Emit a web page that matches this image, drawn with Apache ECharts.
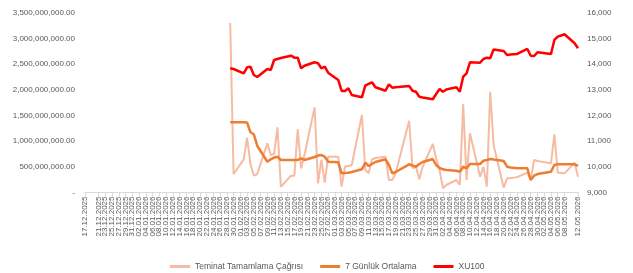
<!DOCTYPE html>
<html>
<head>
<meta charset="utf-8">
<script src="https://cdn.jsdelivr.net/npm/echarts@6/dist/echarts.min.js"></script>
<style>
    html, body { margin: 0; padding: 0; background: #ffffff; }
    #chart { width: 633px; height: 273px; }
</style>
</head>
<body>
<div id="chart"></div>
<script>
// axis runs day by day, labels every second day
const firstDay = '17.12.2025';
const lastDay = '12.05.2026';

// trading days that carry data
const tradeDates = [
    '29.01.2026', '30.01.2026',
    '02.02.2026', '03.02.2026', '04.02.2026', '05.02.2026', '06.02.2026',
    '09.02.2026', '10.02.2026', '11.02.2026', '12.02.2026', '13.02.2026',
    '16.02.2026', '17.02.2026', '18.02.2026', '19.02.2026', '20.02.2026',
    '23.02.2026', '24.02.2026', '25.02.2026', '26.02.2026', '27.02.2026',
    '02.03.2026', '03.03.2026', '04.03.2026', '05.03.2026', '06.03.2026',
    '09.03.2026', '10.03.2026', '11.03.2026', '12.03.2026', '13.03.2026',
    '16.03.2026', '17.03.2026', '18.03.2026', '19.03.2026',
    '23.03.2026', '24.03.2026', '25.03.2026', '26.03.2026', '27.03.2026',
    '30.03.2026', '31.03.2026', '01.04.2026', '02.04.2026', '03.04.2026',
    '06.04.2026', '07.04.2026', '08.04.2026', '09.04.2026', '10.04.2026',
    '13.04.2026', '14.04.2026', '15.04.2026', '16.04.2026', '17.04.2026',
    '20.04.2026', '21.04.2026', '22.04.2026', '24.04.2026',
    '27.04.2026', '28.04.2026', '29.04.2026', '30.04.2026',
    '04.05.2026', '05.05.2026', '06.05.2026', '07.05.2026', '08.05.2026',
    '11.05.2026', '12.05.2026'
];

const marginCalls = [
    3305e6, 361e6,
    647e6, 1068e6, 550e6, 328e6, 361e6,
    959e6, 731e6, 751e6, 1271e6, 113e6,
    328e6, 328e6, 1238e6, 472e6, 731e6,
    1661e6, 179e6, 634e6, 191e6, 698e6,
    698e6, 113e6, 503e6, 517e6, 536e6,
    1511e6, 439e6, 374e6, 647e6, 673e6,
    698e6, 244e6, 244e6, 374e6,
    1400e6, 472e6, 503e6, 257e6, 500e6,
    946e6, 667e6, 439e6, 82e6, 146e6,
    244e6, 146e6, 1725e6, 244e6, 1154e6,
    308e6, 503e6, 113e6, 1965e6, 926e6,
    94e6, 277e6, 277e6, 300e6,
    386e6, 244e6, 634e6, 614e6,
    569e6, 1135e6, 386e6, 380e6, 374e6,
    581e6, 308e6
];

const avg7 = [
    1369e6, 1369e6,
    1369e6, 1365e6, 1174e6, 1135e6, 912e6,
    600e6, 647e6, 682e6, 698e6, 634e6,
    634e6, 634e6, 634e6, 667e6, 634e6,
    692e6, 721e6, 731e6, 698e6, 600e6,
    589e6, 374e6, 380e6, 386e6, 400e6,
    452e6, 581e6, 517e6, 556e6, 595e6,
    647e6, 536e6, 374e6, 400e6,
    550e6, 526e6, 503e6, 556e6, 595e6,
    653e6, 536e6, 478e6, 452e6, 439e6,
    425e6, 406e6, 503e6, 472e6, 556e6,
    556e6, 620e6, 634e6, 653e6, 643e6,
    614e6, 503e6, 487e6, 472e6,
    472e6, 244e6, 328e6, 360e6,
    406e6, 536e6, 550e6, 550e6, 550e6,
    550e6, 517e6
];

const xu100 = [
    13844, 13817,
    13649, 13883, 13906, 13583, 13505,
    13817, 13778, 14168, 14207, 14246,
    14335, 14257, 14257, 13844, 13945,
    14078, 14039, 13844, 13906, 13672,
    13388, 12959, 12959, 13064, 12803,
    12713, 13165, 13232, 13298, 13103,
    12970, 13220, 13087, 13103,
    13154, 12970, 12931, 12736, 12705,
    12635, 12842, 13037, 12931, 13017,
    13103, 12931, 13516, 13649, 14078,
    14062, 14207, 14257, 14234, 14577,
    14519, 14363, 14382, 14402,
    14597, 14335, 14324, 14468,
    14402, 14948, 15076, 15123, 15170,
    14819, 14624
];

const seriesNames = ['Teminat Tamamlama Çağrısı', '7 Günlük Ortalama', 'XU100'];

function parseDay(s) {
    const [d, m, y] = s.split('.').map(Number);
    return new Date(Date.UTC(y, m - 1, d));
}
function formatDay(dt) {
    const d = String(dt.getUTCDate()).padStart(2, '0');
    const m = String(dt.getUTCMonth() + 1).padStart(2, '0');
    return d + '.' + m + '.' + dt.getUTCFullYear();
}

const categories = [];
for (let t = parseDay(firstDay); t <= parseDay(lastDay); t = new Date(t.getTime() + 86400000)) {
    categories.push(formatDay(t));
}

// put each trading-day value on its calendar day, leave the rest empty
function onCalendar(values) {
    const out = categories.map(() => null);
    tradeDates.forEach((d, i) => { out[categories.indexOf(d)] = values[i]; });
    return out;
}

function moneyLabel(v) {
    if (v === 0) return '-';
    return v.toLocaleString('en-US', { minimumFractionDigits: 2, maximumFractionDigits: 2 });
}

const everyOther = (idx) => idx % 2 === 0;

const font = 'Liberation Sans, Arial, sans-serif';
const textColor = '#595959';

const chart = echarts.init(document.getElementById('chart'));
chart.setOption({
    backgroundColor: '#ffffff',
    animation: false,
    textStyle: { fontFamily: font },
    grid: { left: 85, right: 55, top: 13, bottom: 80.5 },
    legend: {
        top: 257,
        left: 165,
        itemWidth: 20,
        itemHeight: 3,
        itemGap: 17,
        icon: 'rect',
        data: seriesNames,
        textStyle: { fontSize: 8.5, color: textColor, fontFamily: font }
    },
    xAxis: {
        type: 'category',
        boundaryGap: false,
        data: categories,
        axisLine: { lineStyle: { color: '#d9d9d9' } },
        axisTick: { interval: everyOther, length: 4, lineStyle: { color: '#d9d9d9' } },
        axisLabel: {
            interval: everyOther,
            showMinLabel: true,
            showMaxLabel: true,
            rotate: 90,
            margin: 4,
            fontSize: 8,
            color: textColor,
            fontFamily: font
        },
        splitLine: { show: false }
    },
    yAxis: [
        {
            type: 'value',
            min: 0,
            max: 3500000000,
            interval: 500000000,
            axisLine: { show: false },
            axisTick: { show: false },
            splitLine: { show: false },
            axisLabel: { fontSize: 8, color: textColor, margin: 10, fontFamily: font, formatter: moneyLabel }
        },
        {
            type: 'value',
            min: 9000,
            max: 16000,
            interval: 1000,
            axisLine: { show: false },
            axisTick: { show: false },
            splitLine: { show: false },
            axisLabel: { fontSize: 8, color: textColor, margin: 9, fontFamily: font }
        }
    ],
    series: [
        {
            name: seriesNames[0],
            type: 'line',
            data: onCalendar(marginCalls),
            connectNulls: true,
            showSymbol: false,
            color: '#f5bba3',
            lineStyle: { width: 2, color: '#f5bba3' }
        },
        {
            name: seriesNames[1],
            type: 'line',
            data: onCalendar(avg7),
            connectNulls: true,
            showSymbol: false,
            color: '#ed7d31',
            lineStyle: { width: 2.5, color: '#ed7d31' }
        },
        {
            name: seriesNames[2],
            type: 'line',
            yAxisIndex: 1,
            data: onCalendar(xu100),
            connectNulls: true,
            showSymbol: false,
            color: '#ff0000',
            lineStyle: { width: 2.5, color: '#ff0000' }
        }
    ]
});
</script>
</body>
</html>
